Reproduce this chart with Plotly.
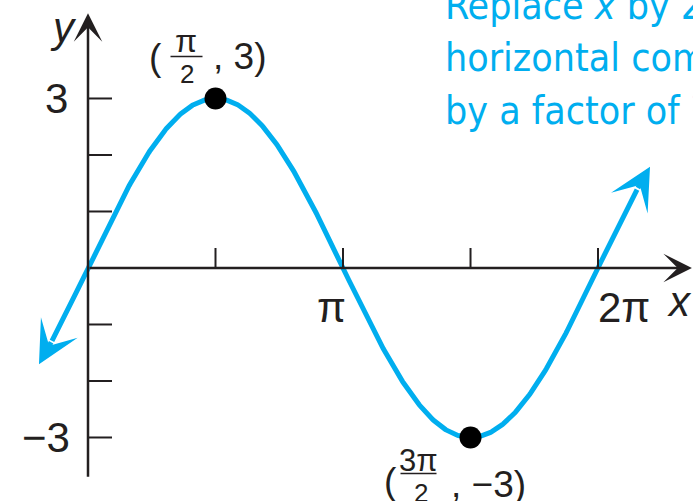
import numpy as np
import plotly.graph_objects as go

# y = 3 sin x, one full period plus a little on each side
AMPLITUDE = 3
x_start, x_end = -0.604, 6.924          # curve arrow tips
x_ticks = [np.pi / 2, np.pi, 3 * np.pi / 2, 2 * np.pi]
x_tick_labels = {np.pi: "π", 2 * np.pi: "2π"}
y_ticks = [-3, -2, -1, 1, 2, 3]
y_tick_labels = {3: "3", -3: "−3"}
key_x = [np.pi / 2, 3 * np.pi / 2]
key_y = [3, -3]

BLUE = "#00AEEF"
INK = "#231F20"
FONT = "Liberation Sans Narrow, Liberation Sans, Arial Narrow, sans-serif"
CAPTION_FONT = "DejaVu Sans Condensed, Liberation Sans, sans-serif"

W, H = 693, 501
X_RANGE = [-1.0842, 7.4535]
Y_RANGE = [-4.124, 4.743]

back = 0.16
xs = np.linspace(x_start + back, x_end - back, 600)
ys = AMPLITUDE * np.sin(xs)

fig = go.Figure()
fig.add_trace(go.Scatter(x=xs, y=ys, mode="lines",
                         line=dict(color=BLUE, width=5), hoverinfo="skip"))
fig.add_trace(go.Scatter(x=key_x, y=key_y, mode="markers",
                         marker=dict(color="black", size=22), hoverinfo="skip"))

ann = []
shapes = []

# curve arrowheads
for tip, tail in [(x_start, x_start + back), (x_end, x_end - back)]:
    ann.append(dict(x=tip, y=AMPLITUDE * np.sin(tip), ax=tail, ay=AMPLITUDE * np.sin(tail),
                    xref="x", yref="y", axref="x", ayref="y", text="", showarrow=True,
                    arrowhead=3, arrowsize=1.4, arrowwidth=5, arrowcolor=BLUE))

# axes with arrowheads
ann.append(dict(x=7.44, y=0, ax=0, ay=0, xref="x", yref="y", axref="x", ayref="y",
                text="", showarrow=True, arrowhead=3, arrowsize=1.9, arrowwidth=2.5,
                arrowcolor=INK))
ann.append(dict(x=0, y=4.51, ax=0, ay=-3.72, xref="x", yref="y", axref="x", ayref="y",
                text="", showarrow=True, arrowhead=3, arrowsize=1.9, arrowwidth=2.5,
                arrowcolor=INK))

# tick marks
for t in x_ticks:
    shapes.append(dict(type="line", xref="x", yref="y", x0=t, x1=t,
                       ysizemode="pixel", yanchor=0, y0=0, y1=20,
                       line=dict(color=INK, width=2)))
for t in y_ticks:
    shapes.append(dict(type="line", xref="x", yref="y", y0=t, y1=t,
                       xsizemode="pixel", xanchor=0, x0=0, x1=24,
                       line=dict(color=INK, width=2)))

def label(x, y, text, dx=0, dy=0, size=42, color=INK, xanchor="center", italic=False):
    ann.append(dict(x=x, y=y, xref="x", yref="y", text=text, showarrow=False,
                    xshift=dx, yshift=dy, xanchor=xanchor, yanchor="middle",
                    font=dict(family=FONT, size=size, color=color,
                              style="italic" if italic else "normal")))

# tick labels
label(np.pi, 0, x_tick_labels[np.pi], dx=-12, dy=-40)
label(2 * np.pi, 0, x_tick_labels[2 * np.pi], dx=26, dy=-40)
label(0, 3, y_tick_labels[3], dx=-18, dy=0, xanchor="right")
label(0, -3, y_tick_labels[-3], dx=-16, dy=0, xanchor="right")
label(7.44, 0, "x", dx=-12, dy=-34, italic=True)
label(0, 4.51, "y", dx=-25, dy=-14, italic=True)

# point labels with stacked fractions
px, py = key_x[0], key_y[0]
label(px, py, "(", dx=-60, dy=41, size=37)
label(px, py, "π", dx=-30, dy=57, size=32)
label(px, py, "2", dx=-29, dy=24, size=26)
label(px, py, ", 3)", dx=24, dy=42, size=37)
shapes.append(dict(type="line", xref="x", yref="y", xsizemode="pixel", ysizemode="pixel",
                   xanchor=px, yanchor=py, x0=-45, x1=-13, y0=42, y1=42,
                   line=dict(color=INK, width=1.5)))

qx, qy = key_x[1], key_y[1]
label(qx, qy, "(", dx=-80, dy=-44, size=37)
label(qx, qy, "3π", dx=-52, dy=-23, size=31)
label(qx, qy, "2", dx=-50, dy=-56, size=26)
label(qx, qy, ", −3)", dx=18, dy=-47, size=37)
shapes.append(dict(type="line", xref="x", yref="y", xsizemode="pixel", ysizemode="pixel",
                   xanchor=qx, yanchor=qy, x0=-70, x1=-34, y0=-36, y1=-36,
                   line=dict(color=INK, width=1.5)))

# caption
caption = ["Replace <i>x</i> by 2", "horizontal com", "by a factor of ½"]
for i, line in enumerate(caption):
    ann.append(dict(x=443 / W, y=1 - (6 + 52 * i) / H, xref="paper", yref="paper",
                    text=line, showarrow=False, xanchor="left", yanchor="middle",
                    font=dict(family=CAPTION_FONT, size=39, color=BLUE)))

fig.update_layout(
    width=W, height=H, margin=dict(l=0, r=0, t=0, b=0),
    paper_bgcolor="white", plot_bgcolor="white", showlegend=False,
    xaxis=dict(range=X_RANGE, visible=False, fixedrange=True),
    yaxis=dict(range=Y_RANGE, visible=False, fixedrange=True),
    annotations=ann, shapes=shapes,
)
fig.write_html("out.html")
